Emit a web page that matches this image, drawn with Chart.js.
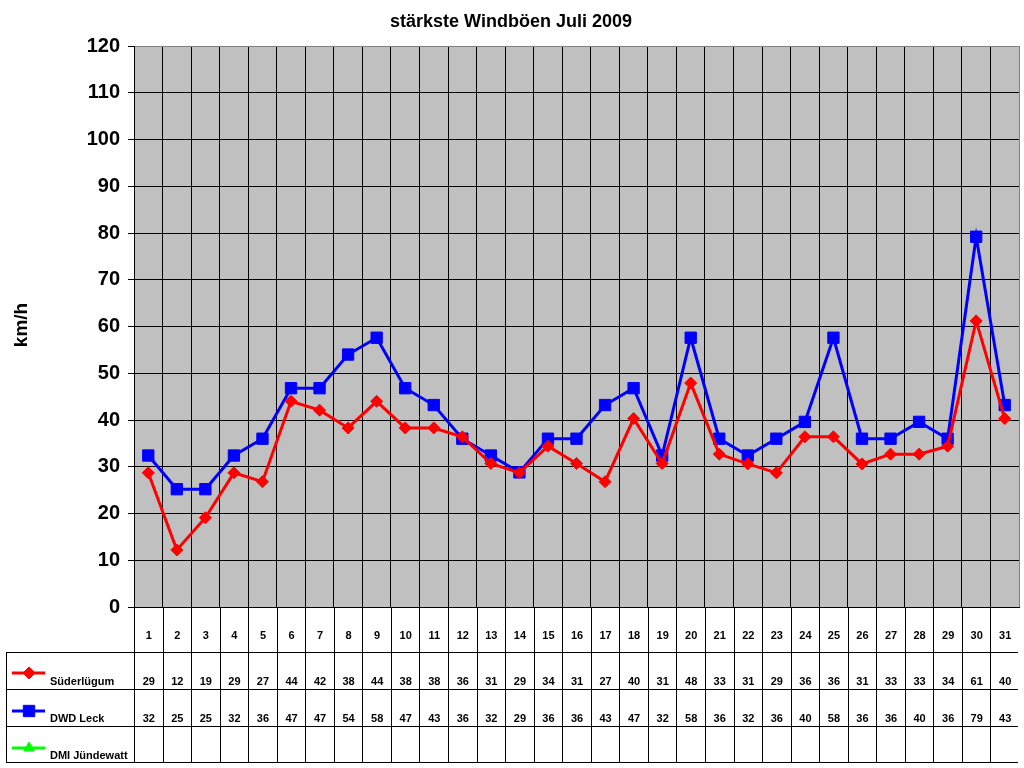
<!DOCTYPE html>
<html>
<head>
<meta charset="utf-8">
<script src="https://cdn.jsdelivr.net/npm/chart.js@4/dist/chart.umd.min.js"></script>
<style>
html,body{margin:0;padding:0;background:#fff;overflow:hidden}
#wrap{width:1024px;height:768px;position:relative}
canvas{display:block}
</style>
</head>
<body>
<div id="wrap"><canvas id="c" width="1024" height="768"></canvas></div>
<script>
// ---- data ----
const chartTitle = 'stärkste Windböen Juli 2009';
const yAxisTitle = 'km/h';
const days = ['1','2','3','4','5','6','7','8','9','10','11','12','13','14','15','16','17','18','19','20','21','22','23','24','25','26','27','28','29','30','31'];
const seriesNames = ['Süderlügum', 'DWD Leck', 'DMI Jündewatt'];
const suederluegum = [28.7,12.2,19.1,28.7,26.8,44.0,42.1,38.3,44.0,38.3,38.3,36.4,30.7,28.7,34.4,30.7,26.8,40.3,30.7,47.9,32.7,30.6,28.7,36.4,36.4,30.6,32.7,32.7,34.4,61.2,40.3];
const dwdLeck = [32.4,25.2,25.2,32.4,36.0,46.8,46.8,54.0,57.6,46.8,43.2,36.0,32.4,28.8,36.0,36.0,43.2,46.8,32.4,57.6,36.0,32.4,36.0,39.6,57.6,36.0,36.0,39.6,36.0,79.2,43.2];
const dmiJuendewatt = [];
const yMin = 0, yMax = 120, yStep = 10;

const FONT = "Arial, 'Liberation Sans', sans-serif";

// ---- plugins ----
const bgPlugin = {
  id: 'plotBg',
  beforeDraw(chart) {
    const {ctx, chartArea: a} = chart;
    ctx.save();
    ctx.fillStyle = '#C0C0C0';
    ctx.fillRect(a.left, a.top, a.right - a.left, a.bottom - a.top);
    ctx.restore();
  }
};

const textPlugin = {
  id: 'texts',
  afterDraw(chart) {
    const ctx = chart.ctx;
    ctx.save();
    ctx.fillStyle = '#000';
    ctx.font = 'bold 18px ' + FONT;
    ctx.textAlign = 'center';
    ctx.textBaseline = 'alphabetic';
    ctx.fillText(chartTitle, 511, 27);
    ctx.translate(22, 325);
    ctx.rotate(-Math.PI / 2);
    ctx.font = 'bold 19px ' + FONT;
    ctx.textBaseline = 'middle';
    ctx.fillText(yAxisTitle, 0, 0);
    ctx.restore();
  }
};

const tablePlugin = {
  id: 'dataTable',
  afterDraw(chart) {
    const {ctx, chartArea: a} = chart;
    const xs = chart.scales.x;
    const n = days.length;
    const step = (a.right - a.left) / n;
    const top = a.bottom;
    const rowLines = [652, 689, 726, 762];
    const textBase = [639, 685, 722, 759];
    const leftX = 6;
    const crisp = v => Math.round(v) + 0.5;
    ctx.save();
    ctx.strokeStyle = '#000';
    ctx.lineWidth = 1;
    ctx.beginPath();
    for (let i = 0; i < n; i++) {
      const x = crisp(a.left + i * step);
      ctx.moveTo(x, top);
      ctx.lineTo(x, rowLines[3] + 0.5);
    }
    for (const y of rowLines) {
      ctx.moveTo(leftX, y + 0.5);
      ctx.lineTo(a.right - 1, y + 0.5);
    }
    ctx.moveTo(leftX + 0.5, rowLines[0]);
    ctx.lineTo(leftX + 0.5, rowLines[3] + 1);
    ctx.stroke();

    ctx.fillStyle = '#000';
    ctx.font = 'bold 11px ' + FONT;
    ctx.textAlign = 'center';
    ctx.textBaseline = 'alphabetic';
    const rows = [suederluegum, dwdLeck, dmiJuendewatt];
    for (let i = 0; i < n; i++) {
      const cx = xs.getPixelForValue(i) + 0.5;
      ctx.fillText(days[i], cx, textBase[0]);
      rows.forEach((r, k) => {
        if (r[i] !== undefined && r[i] !== null) {
          ctx.fillText(String(Math.round(r[i])), cx, textBase[k + 1]);
        }
      });
    }
    // legend keys
    const keyY = [673, 711, 748];
    chart.data.datasets.forEach((ds, k) => {
      const y = keyY[k];
      ctx.strokeStyle = ds.borderColor;
      ctx.lineWidth = 3;
      ctx.beginPath();
      ctx.moveTo(12, y);
      ctx.lineTo(45, y);
      ctx.stroke();
      ctx.fillStyle = ds.pointBackgroundColor;
      ctx.strokeStyle = ds.pointBorderColor;
      ctx.lineWidth = 1;
      Chart.helpers.drawPoint(ctx, {pointStyle: ds.pointStyle, rotation: 0, borderWidth: 1, radius: ds.pointRadius}, 29, y);
      ctx.fillStyle = '#000';
      ctx.font = 'bold 11px ' + FONT;
      ctx.textAlign = 'left';
      ctx.fillText(seriesNames[k], 50, textBase[k + 1]);
    });
    ctx.restore();
  }
};

// ---- chart ----
new Chart(document.getElementById('c'), {
  type: 'line',
  data: {
    labels: days,
    datasets: [
      {
        label: seriesNames[0], data: suederluegum,
        borderColor: '#FF0000', borderWidth: 3,
        pointStyle: 'rectRot', pointRadius: 6,
        pointBackgroundColor: '#FF0000', pointBorderColor: '#FF0000', pointBorderWidth: 1,
        tension: 0
      },
      {
        label: seriesNames[1], data: dwdLeck,
        borderColor: '#0000FF', borderWidth: 3,
        pointStyle: 'rect', pointRadius: 8,
        pointBackgroundColor: '#0000FF', pointBorderColor: '#0000FF', pointBorderWidth: 1,
        tension: 0
      },
      {
        label: seriesNames[2], data: dmiJuendewatt,
        borderColor: '#00FF00', borderWidth: 3,
        pointStyle: 'triangle', pointRadius: 6,
        pointBackgroundColor: '#00FF00', pointBorderColor: '#00FF00', pointBorderWidth: 1,
        tension: 0
      }
    ]
  },
  options: {
    responsive: false,
    animation: false,
    devicePixelRatio: 1,
    layout: {autoPadding: false, padding: {top: 46, bottom: 161, left: 0, right: 5}},
    plugins: {legend: {display: false}, title: {display: false}, tooltip: {enabled: false}},
    scales: {
      x: {
        type: 'category',
        offset: true,
        ticks: {display: false},
        grid: {
          offset: true, drawTicks: false, lineWidth: 1,
          color: ctx => (ctx.type === 'tick' ? '#000' : '#808080')
        },
        border: {display: true, color: '#000', width: 1},
        afterFit: s => { s.height = 0; }
      },
      y: {
        min: yMin, max: yMax,
        ticks: {stepSize: yStep, color: '#000', font: {family: FONT, size: 20, weight: 'bold'}, padding: 8},
        grid: {
          lineWidth: 1, tickLength: 6, drawTicks: true,
          color: ctx => (ctx.tick && ctx.tick.value === yMax ? '#808080' : '#000'),
          tickColor: '#000'
        },
        border: {display: true, color: '#000', width: 1},
        afterFit: s => { s.width = 134; }
      }
    }
  },
  plugins: [bgPlugin, textPlugin, tablePlugin]
});
</script>
</body>
</html>
